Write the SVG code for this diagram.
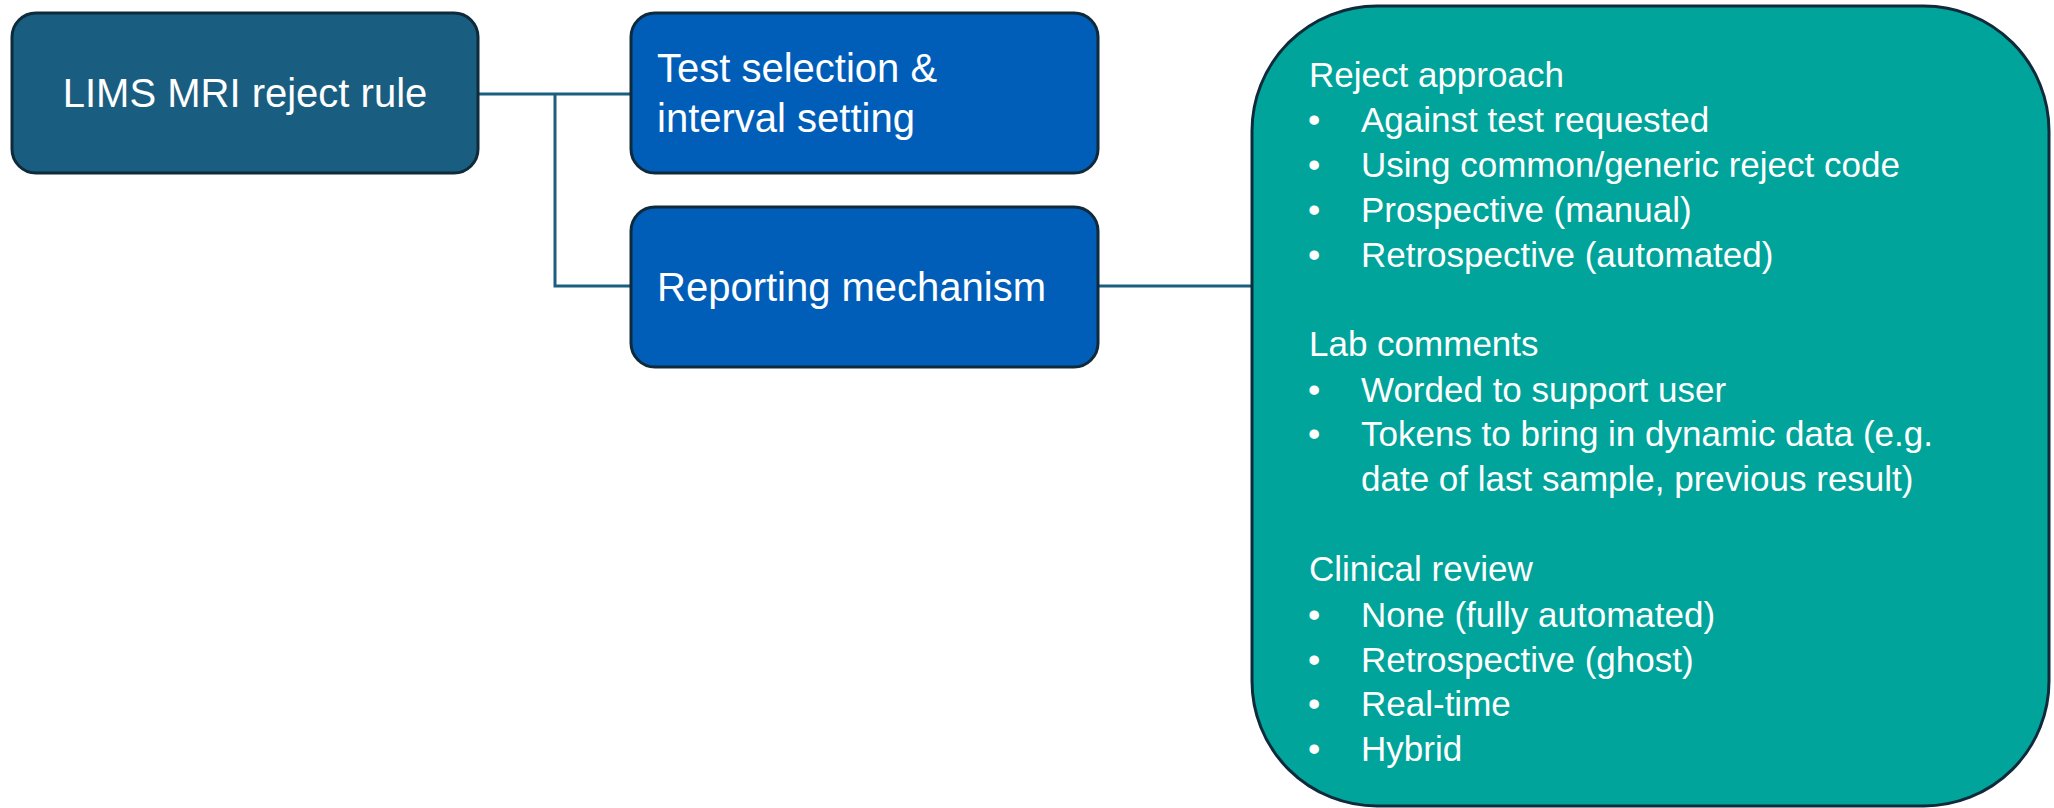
<svg xmlns="http://www.w3.org/2000/svg" width="2054" height="808" viewBox="0 0 2054 808">
<style>
.t{font-family:"Liberation Sans",Arial,sans-serif;fill:#ffffff;font-size:35px}
.b{font-family:"Liberation Sans",Arial,sans-serif;fill:#ffffff;font-size:40px}
.n1{fill:#195E80;stroke:#0F2B3B;stroke-width:3}
.n2{fill:#005EB8;stroke:#0F2B3B;stroke-width:3}
.n3{fill:#00A49A;stroke:#0F2B3B;stroke-width:3}
.c{fill:none;stroke:#1B5F80;stroke-width:3}
</style>
<rect width="2054" height="808" fill="#ffffff"/>
<g id="connectors">
<path class="c" d="M478 94 H631"/>
<path class="c" d="M555 94 V286 H631"/>
<path class="c" d="M1098 286 H1252"/>
</g>
<g id="node-lims">
<rect class="n1" x="12" y="13" width="466" height="160" rx="24"/>
<text class="b" x="245" y="107" text-anchor="middle">LIMS MRI reject rule</text>
</g>
<g id="node-test">
<rect class="n2" x="631" y="13" width="467" height="160" rx="24"/>
<text class="b" x="657" y="82">Test selection &amp;</text>
<text class="b" x="657" y="132">interval setting</text>
</g>
<g id="node-reporting">
<rect class="n2" x="631" y="207" width="467" height="160" rx="24"/>
<text class="b" x="657" y="301">Reporting mechanism</text>
</g>
<g id="node-details">
<rect class="n3" x="1252" y="6" width="797" height="800" rx="125"/>
<g class="t">
<text x="1309" y="87">Reject approach</text>
<text x="1309" y="356">Lab comments</text>
<text x="1309" y="581">Clinical review</text>
</g>
<g class="t">
<text x="1308" y="132">•</text><text x="1361" y="132">Against test requested</text>
<text x="1308" y="177">•</text><text x="1361" y="177">Using common/generic reject code</text>
<text x="1308" y="222">•</text><text x="1361" y="222">Prospective (manual)</text>
<text x="1308" y="267">•</text><text x="1361" y="267">Retrospective (automated)</text>
<text x="1308" y="402">•</text><text x="1361" y="402">Worded to support user</text>
<text x="1308" y="446">•</text><text x="1361" y="446">Tokens to bring in dynamic data (e.g.</text>
<text x="1361" y="491">date of last sample, previous result)</text>
<text x="1308" y="627">•</text><text x="1361" y="627">None (fully automated)</text>
<text x="1308" y="672">•</text><text x="1361" y="672">Retrospective (ghost)</text>
<text x="1308" y="716">•</text><text x="1361" y="716">Real-time</text>
<text x="1308" y="761">•</text><text x="1361" y="761">Hybrid</text>
</g>
</g>
</svg>
